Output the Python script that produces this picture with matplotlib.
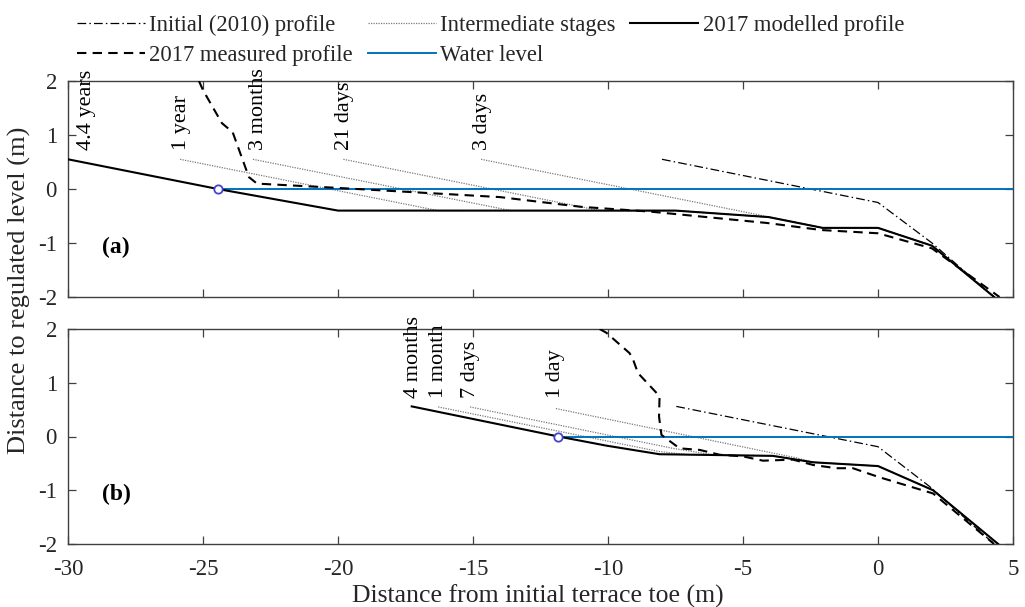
import matplotlib
matplotlib.use("Agg")
import matplotlib.pyplot as plt
from matplotlib.lines import Line2D

plt.rcParams['font.family'] = ['Liberation Serif', 'DejaVu Serif']
plt.rcParams['axes.unicode_minus'] = False

# ---------------- data: panel (a) ----------------
a_model_x = [-30.0, -24.45, -20.0, -7.5, -4.05, -2.05, 0.0, 2.0, 4.3]
a_model_y = [0.55, 0.0, -0.40, -0.40, -0.52, -0.72, -0.72, -1.05, -2.0]

a_meas_x = [-25.15, -25.0, -24.3, -23.9, -23.3, -23.0, -20.0, -14.0, -11.0, -8.4, -4.1, -2.1, 0.0, 2.0, 4.5]
a_meas_y = [2.0, 1.83, 1.22, 1.05, 0.22, 0.10, 0.02, -0.15, -0.33, -0.42, -0.63, -0.76, -0.82, -1.10, -2.0]

a_init_x = [-8.0, 0.0, 2.0, 4.3]
a_init_y = [0.55, -0.25, -1.0, -2.0]

a_stage_labels = ['4.4 years', '1 year', '3 months', '21 days', '3 days']
a_stage_label_x = [-29.3, -25.8, -22.95, -19.75, -14.65]
a_stage_x = [[-25.85, -16.3, -7.5, -4.05, -2.05, 0.0, 2.0, 4.3],
             [-23.15, -13.6, -7.5, -4.05, -2.05, 0.0, 2.0, 4.3],
             [-19.8, -10.3, -7.5, -4.05, -2.05, 0.0, 2.0, 4.3],
             [-14.7, -4.4, -4.05, -2.05, 0.0, 2.0, 4.3]]
a_stage_y = [[0.55, -0.40, -0.40, -0.52, -0.72, -0.72, -1.05, -2.0],
             [0.55, -0.40, -0.40, -0.52, -0.72, -0.72, -1.05, -2.0],
             [0.55, -0.40, -0.40, -0.52, -0.72, -0.72, -1.05, -2.0],
             [0.55, -0.48, -0.52, -0.72, -0.72, -1.05, -2.0]]
a_water_x0 = -24.45

# ---------------- data: panel (b) ----------------
b_model_x = [-17.27, -11.84, -10.06, -8.09, -3.9, -2.4, 0.0, 2.04, 4.45]
b_model_y = [0.56, 0.0, -0.17, -0.33, -0.36, -0.48, -0.55, -1.0, -2.0]

b_meas_x = [-10.31, -10.06, -9.2, -9.07, -8.89, -8.09, -8.11, -8.02, -7.78, -7.35, -6.6, -5.86,
            -5.0, -4.26, -3.15, -2.4, -1.54, -0.93, 0.0, 2.04, 4.3]
b_meas_y = [2.0, 1.93, 1.55, 1.43, 1.18, 0.75, 0.37, 0.03, -0.06, -0.22, -0.25, -0.34,
            -0.37, -0.45, -0.43, -0.53, -0.59, -0.59, -0.75, -1.06, -2.0]

b_init_x = [-7.47, 0.0, 1.91, 4.3]
b_init_y = [0.56, -0.19, -0.93, -2.0]

b_stage_labels = ['4 months', '1 month', '7 days', '1 day']
b_stage_label_x = [-17.22, -16.26, -15.09, -11.96]
b_stage_x = [[-16.29, -8.1, -7.0, -3.9, -2.4, 0.0, 2.04, 4.45],
             [-15.11, -7.6, -6.0, -3.9, -2.4, 0.0, 2.04, 4.45],
             [-11.93, -3.0, -2.4, 0.0, 2.04, 4.45]]
b_stage_y = [[0.55, -0.28, -0.34, -0.36, -0.48, -0.55, -1.0, -2.0],
             [0.55, -0.22, -0.35, -0.36, -0.48, -0.55, -1.0, -2.0],
             [0.52, -0.40, -0.48, -0.55, -1.0, -2.0]]
b_water_x0 = -11.84

x_ticks = [-30, -25, -20, -15, -10, -5, 0, 5]
y_ticks = [-2, -1, 0, 1, 2]

# ---------------- styles ----------------
C_WATER = '#0072BD'
C_STAGE = '#7a7a7a'
C_SPINE = '#404040'
C_TEXT = '#262626'
DASHDOT = (0, (7, 2.5, 1.2, 2.5))
DASHED = (0, (4.5, 3))
DOTTED = (0, (1, 1))

fig = plt.figure(figsize=(10.25, 6.07), dpi=100)
ax_a = fig.add_axes([68 / 1025, 1 - 297 / 607, 945 / 1025, 216 / 607])
ax_b = fig.add_axes([68 / 1025, 1 - 544 / 607, 945 / 1025, 215 / 607])


def draw_panel(ax, model_x, model_y, meas_x, meas_y, init_x, init_y,
               stage_x, stage_y, labels, label_x, water_x0, tag, show_x):
    for sx, sy in zip(stage_x, stage_y):
        ax.plot(sx, sy, color=C_STAGE, lw=0.9, ls=DOTTED, zorder=2)
    ax.plot(init_x, init_y, color='black', lw=0.9, ls=DASHDOT, zorder=3)
    ax.plot([water_x0, 5], [0, 0], color=C_WATER, lw=1.4, zorder=3)
    ax.plot(meas_x, meas_y, color='black', lw=1.5, ls=DASHED, zorder=4)
    ax.plot(model_x, model_y, color='black', lw=1.5, zorder=5)
    ax.plot([water_x0], [0], marker='o', ms=6, mfc='white', mec='#4444cc',
            mew=1.3, zorder=6, ls='none')
    for lab, lx in zip(labels, label_x):
        ax.text(lx, 0.72, lab, rotation=90, ha='center', va='bottom',
                fontsize=16, color='black', clip_on=False, zorder=7)
    ax.text(-28.75, -1.08, tag, fontsize=17, fontweight='bold',
            ha='left', va='center', color='black')
    ax.set_xlim(-30, 5)
    ax.set_ylim(-2, 2)
    ax.set_xticks(x_ticks)
    ax.set_yticks(y_ticks)
    ax.tick_params(direction='in', top=True, right=True, length=6, width=0.9,
                   color=C_SPINE, labelcolor=C_TEXT, labelsize=16.5, pad=8)
    if not show_x:
        ax.tick_params(labelbottom=False)
    else:
        ax.tick_params(axis='x', pad=11)
    for sp in ax.spines.values():
        sp.set_color(C_SPINE)
        sp.set_linewidth(1.0)


draw_panel(ax_a, a_model_x, a_model_y, a_meas_x, a_meas_y, a_init_x, a_init_y,
           a_stage_x, a_stage_y, a_stage_labels, a_stage_label_x, a_water_x0, '(a)', False)
draw_panel(ax_b, b_model_x, b_model_y, b_meas_x, b_meas_y, b_init_x, b_init_y,
           b_stage_x, b_stage_y, b_stage_labels, b_stage_label_x, b_water_x0, '(b)', True)

fig.text(19 / 1025, 1 - 290 / 607, 'Distance to regulated level (m)', rotation=90,
         ha='center', va='center', fontsize=19, color=C_TEXT)
fig.text(538 / 1025, 1 - 596 / 607, 'Distance from initial terrace toe (m)',
         ha='center', va='center', fontsize=18.5, color=C_TEXT)

handles = [
    Line2D([], [], color='black', lw=0.9, ls=DASHDOT),
    Line2D([], [], color='black', lw=1.5, ls=DASHED),
    Line2D([], [], color=C_STAGE, lw=0.9, ls=DOTTED),
    Line2D([], [], color=C_WATER, lw=1.4),
    Line2D([], [], color='black', lw=1.5),
]
names = ['Initial (2010) profile', '2017 measured profile', 'Intermediate stages',
         'Water level', '2017 modelled profile']
fig.legend(handles, names, loc='upper left', bbox_to_anchor=(77 / 1025, 1 - 15 / 607),
           ncol=3, frameon=False, fontsize=16.3, handlelength=3.0, handletextpad=0.2,
           columnspacing=0.65, labelspacing=0.38, borderpad=0, borderaxespad=0,
           labelcolor=C_TEXT)

fig.savefig('out.png', dpi=100)
